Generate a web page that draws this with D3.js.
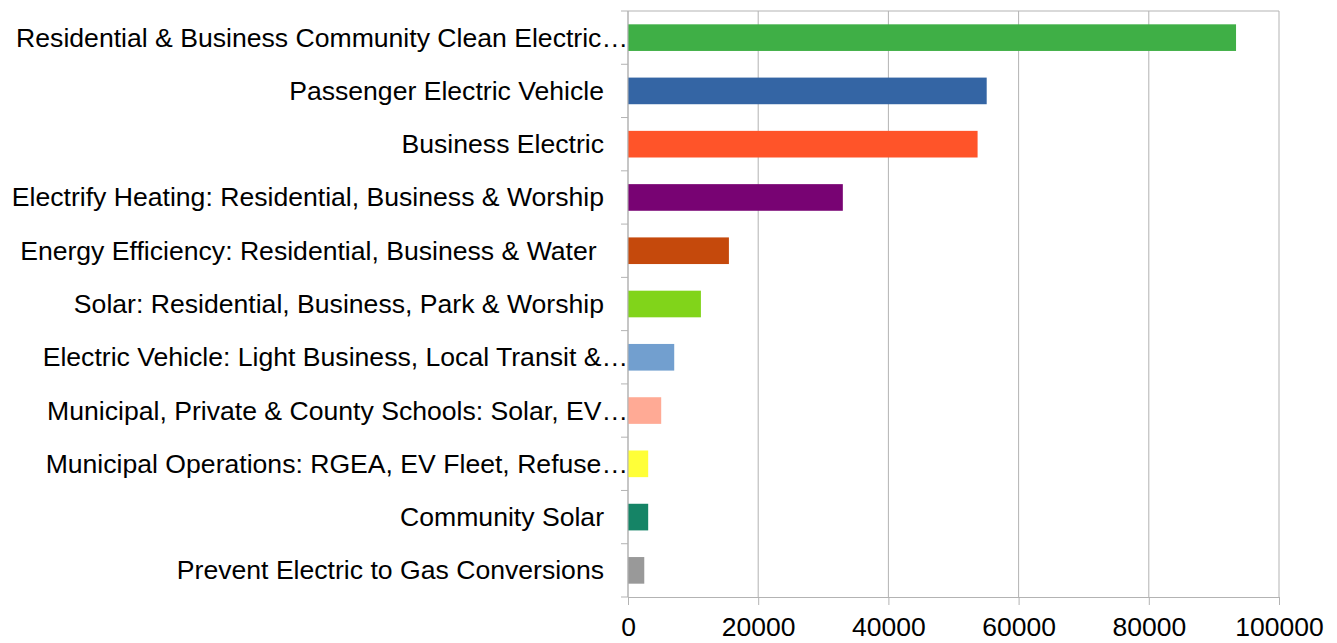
<!DOCTYPE html>
<html>
<head>
<meta charset="utf-8">
<script src="https://cdn.jsdelivr.net/npm/d3@7"></script>
<style>
  body { margin: 0; background: #fff; }
  text { font-family: "Liberation Sans", Arial, sans-serif; fill: #000; }
</style>
</head>
<body>
<script>
// chart data
var categories = [
  "Residential & Business Community Clean Electric\u2026",
  "Passenger Electric Vehicle",
  "Business Electric",
  "Electrify Heating: Residential, Business & Worship",
  "Energy Efficiency: Residential, Business & Water ",
  "Solar: Residential, Business, Park & Worship",
  "Electric Vehicle: Light Business, Local Transit &\u2026",
  "Municipal, Private & County Schools: Solar, EV\u2026",
  "Municipal Operations: RGEA, EV Fleet, Refuse\u2026",
  "Community Solar",
  "Prevent Electric to Gas Conversions"
];
var values = [93400, 55100, 53700, 33000, 15500, 11200, 7100, 5100, 3100, 3100, 2500];
var colors = ["#3faf46", "#3465a4", "#ff5429", "#780373", "#c5490c", "#81d41a",
              "#729fcf", "#ffaa95", "#ffff38", "#158466", "#999999"];
var xTicks = [0, 20000, 40000, 60000, 80000, 100000];

var w = 1337, h = 643;
var plotLeft = 628, plotRight = 1279, plotTop = 11, plotBottom = 597;
var gridColor = "#b3b3b3";

var svg = d3.select("body").append("svg")
  .attr("width", w)
  .attr("height", h);

var x = d3.scaleLinear().domain([0, 100000]).range([plotLeft, plotRight]);
var y = d3.scaleBand().domain(categories).range([plotTop, plotBottom])
  .paddingInner(0.5).paddingOuter(0.25);

//vertical grid lines
svg.append("g").selectAll("line")
  .data(xTicks)
  .enter().append("line")
  .attr("x1", function(d) { return x(d); })
  .attr("x2", function(d) { return x(d); })
  .attr("y1", plotTop)
  .attr("y2", plotBottom)
  .attr("stroke", gridColor)
  .attr("stroke-width", 1);

//top border
svg.append("line")
  .attr("x1", plotLeft).attr("x2", plotRight)
  .attr("y1", plotTop).attr("y2", plotTop)
  .attr("stroke", gridColor);

//bars
svg.append("g").selectAll("rect")
  .data(values)
  .enter().append("rect")
  .attr("x", x(0))
  .attr("y", function(d, i) { return y(categories[i]); })
  .attr("width", function(d) { return x(d) - x(0); })
  .attr("height", y.bandwidth())
  .attr("fill", function(d, i) { return colors[i]; });

//x axis
var xAxis = svg.append("g")
  .attr("transform", "translate(0," + plotBottom + ")")
  .call(d3.axisBottom(x).tickValues(xTicks).tickFormat(d3.format("d")).tickSize(8).tickSizeOuter(0));
xAxis.select(".domain").attr("stroke", gridColor);
xAxis.selectAll(".tick line").attr("stroke", gridColor);
xAxis.selectAll(".tick text")
  .attr("y", 20)
  .attr("font-size", 26.5)
  .attr("font-family", "Liberation Sans, Arial, sans-serif");

//y axis line and ticks at category boundaries
svg.append("line")
  .attr("x1", plotLeft).attr("x2", plotLeft)
  .attr("y1", plotTop).attr("y2", plotBottom)
  .attr("stroke", gridColor);

var boundaries = d3.range(categories.length + 1);
svg.append("g").selectAll("line")
  .data(boundaries)
  .enter().append("line")
  .attr("x1", plotLeft - 7)
  .attr("x2", plotLeft)
  .attr("y1", function(d) { return plotTop + d * (plotBottom - plotTop) / categories.length; })
  .attr("y2", function(d) { return plotTop + d * (plotBottom - plotTop) / categories.length; })
  .attr("stroke", gridColor);

//category labels
svg.append("g").selectAll("text")
  .data(categories)
  .enter().append("text")
  .text(function(d) { return d; })
  .attr("x", function(d) { return d.slice(-1) === "\u2026" ? plotLeft : 604; })
  .attr("y", function(d) { return y(d) + y.bandwidth() / 2 + 9; })
  .attr("text-anchor", "end")
  .attr("font-size", 26.6)
  .style("white-space", "pre");
</script>
</body>
</html>
